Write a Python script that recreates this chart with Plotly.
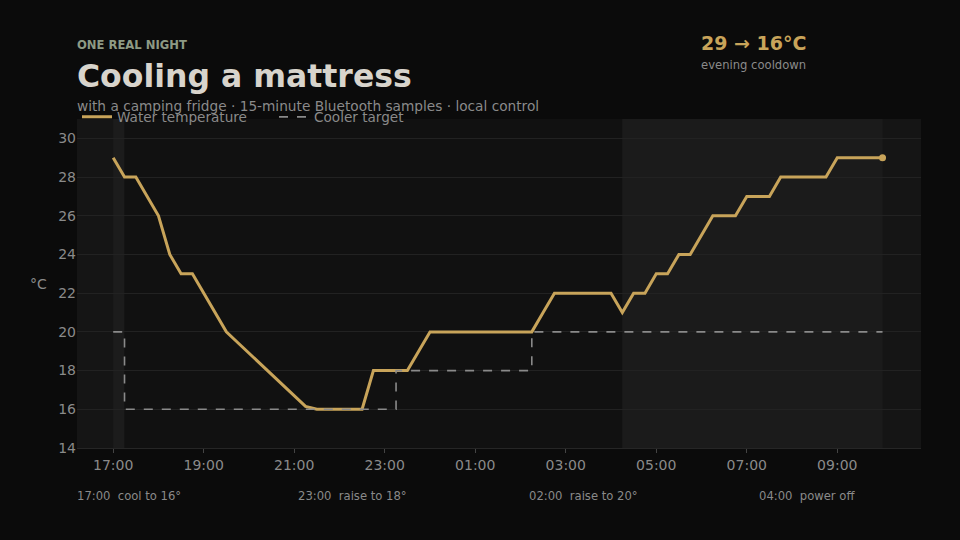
import pandas as pd
import plotly.graph_objects as go

# 15-minute samples, 17:00 -> 10:00 next morning
sample_times = pd.date_range("2024-06-01 17:00", "2024-06-02 10:00", freq="15min")
water_temp = [
    29, 28, 28, 27, 26, 24, 23, 23, 22, 21, 20,
    19.45, 18.9, 18.35, 17.8, 17.25, 16.7, 16.15,
    16, 16, 16, 16, 16,
    18, 18, 18, 18, 19,
    20, 20, 20, 20, 20, 20, 20, 20, 20, 20,
    21, 22, 22, 22, 22, 22, 22,
    21, 22, 22, 23, 23, 24, 24,
    25, 26, 26, 26, 27, 27, 27, 28,
    28, 28, 28, 28, 29, 29, 29, 29, 29,
]

target_times = pd.to_datetime(["2024-06-01 17:00", "2024-06-01 17:15", "2024-06-01 23:15",
                               "2024-06-02 02:15", "2024-06-02 10:00"])
target_temp = [20, 16, 18, 20, 20]

# shaded windows: cooler idle / cooler running / power off
idle_start, idle_end = "2024-06-01 17:00", "2024-06-01 17:15"
run_start, run_end = "2024-06-01 17:15", "2024-06-02 04:15"
off_start, off_end = "2024-06-02 04:15", "2024-06-02 10:00"

events = ["17:00\u00a0\u00a0cool to 16°", "23:00\u00a0\u00a0raise to 18°",
          "02:00\u00a0\u00a0raise to 20°", "04:00\u00a0\u00a0power off"]
event_x = [0.0, 0.262, 0.535, 0.808]

GOLD = "#c8a45a"
GREY = "#8a8a8a"
FONT = "DejaVu Sans"

fig = go.Figure()

fig.add_vrect(x0=idle_start, x1=idle_end, fillcolor="#1c1c1c", line_width=0, layer="below")
fig.add_vrect(x0=run_start, x1=run_end, fillcolor="#111111", line_width=0, layer="below")
fig.add_vrect(x0=off_start, x1=off_end, fillcolor="#1b1b1b", line_width=0, layer="below")

fig.add_trace(go.Scatter(x=sample_times, y=water_temp, mode="lines", name="Water temperature",
                         line=dict(color=GOLD, width=3)))
fig.add_trace(go.Scatter(x=target_times, y=target_temp, mode="lines", name="Cooler target",
                         line=dict(color=GREY, width=1.6, dash="dash", shape="hv")))
fig.add_trace(go.Scatter(x=[sample_times[-1]], y=[water_temp[-1]], mode="markers", showlegend=False,
                         marker=dict(color=GOLD, size=7)))

fig.update_layout(
    width=960, height=540,
    margin=dict(l=77, r=39, t=119, b=92),
    paper_bgcolor="#0b0b0b",
    plot_bgcolor="#151515",
    font=dict(family=FONT, size=14, color=GREY),
    showlegend=True,
    legend=dict(orientation="h", x=0, xanchor="left", y=1.006, yanchor="middle",
                bgcolor="rgba(0,0,0,0)", font=dict(size=13.6, color=GREY), itemwidth=30,
                entrywidth=152, entrywidthmode="pixels"),
    xaxis=dict(
        range=["2024-06-01 16:12", "2024-06-02 10:51"],
        tickformat="%H:%M", dtick=2 * 3600 * 1000, tick0="2024-06-01 17:00",
        showgrid=False, zeroline=False, showline=True, linecolor="#262626",
        ticks="outside", ticklen=4, tickcolor="#444444",
        tickfont=dict(size=14, color=GREY),
    ),
    yaxis=dict(
        range=[14, 31], dtick=2, tick0=14,
        showgrid=True, gridcolor="#222222", gridwidth=1, zeroline=False,
        tickfont=dict(size=14, color=GREY),
    ),
)

ann = [
    dict(text="<b>ONE REAL NIGHT</b>", x=0, y=1.225, font=dict(size=11.6, color="#8e9a84")),
    dict(text="<b>Cooling a mattress</b>", x=0, y=1.131, font=dict(size=31.5, color="#d8d4cc")),
    dict(text="with a camping fridge · 15-minute Bluetooth samples · local control", x=0, y=1.040,
         font=dict(size=13.7, color=GREY)),
    dict(text="<b>29 → 16°C</b>", x=0.739, y=1.231, font=dict(size=19, color=GOLD)),
    dict(text="evening cooldown", x=0.739, y=1.164, font=dict(size=11.6, color=GREY)),
    dict(text="°C", x=-0.0557, y=0.5, font=dict(size=14, color=GREY)),
]
for a in ann:
    fig.add_annotation(xref="paper", yref="paper", xanchor="left", yanchor="middle",
                       showarrow=False, xshift=-2, **a)
for label, ex in zip(events, event_x):
    fig.add_annotation(text=label, xref="paper", yref="paper", x=ex, y=-0.146,
                       xanchor="left", yanchor="middle", showarrow=False, xshift=-2,
                       font=dict(size=11.6, color=GREY))

fig.write_html("out.html", config={"displayModeBar": False},
               post_script="document.body.style.margin='0';")
